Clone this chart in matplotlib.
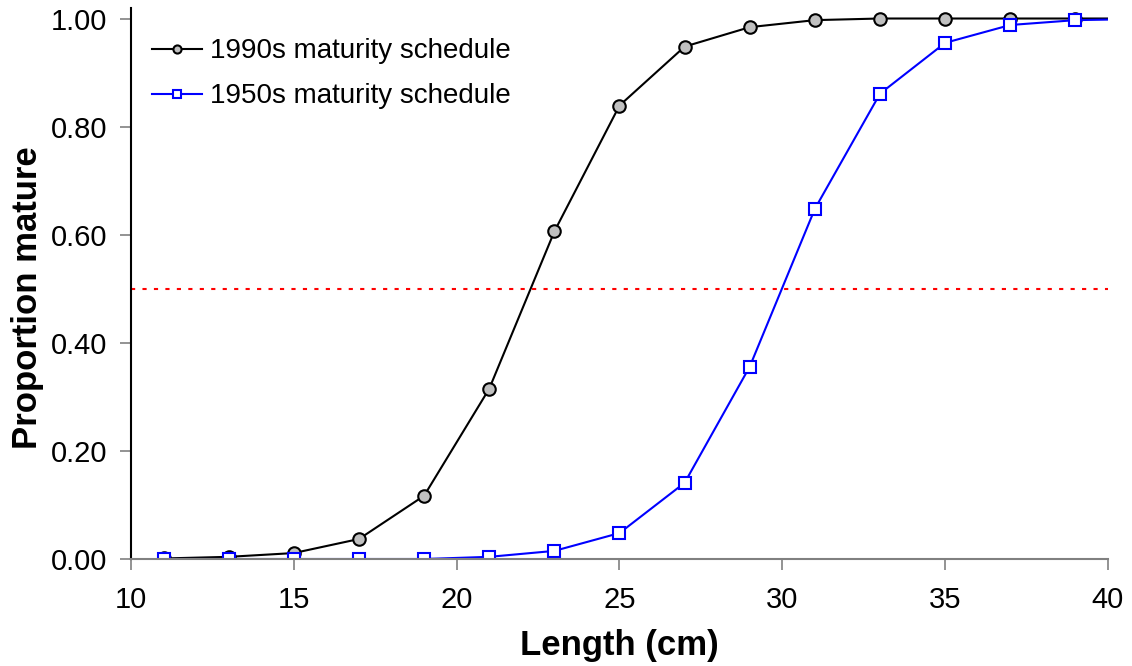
import matplotlib
matplotlib.use("Agg")
import matplotlib.pyplot as plt

plt.rcParams["font.family"] = ["Liberation Sans", "DejaVu Sans"]

# maturity ogives
length_cm = [11, 13, 15, 17, 19, 21, 23, 25, 27, 29, 31, 33, 35, 37, 39, 41]
mature_1990s = [0.001, 0.004, 0.011, 0.037, 0.117, 0.315, 0.606, 0.839,
                0.948, 0.984, 0.997, 1.000, 1.000, 1.000, 1.000, 1.000]
mature_1950s = [0.000, 0.000, 0.000, 0.000, 0.000, 0.004, 0.015, 0.048,
                0.141, 0.356, 0.648, 0.861, 0.955, 0.988, 0.997, 0.999]
x_ticks = [10, 15, 20, 25, 30, 35, 40]
y_ticks = [0.0, 0.2, 0.4, 0.6, 0.8, 1.0]
half_mature = 0.5

fig = plt.figure(figsize=(11.32, 6.66), dpi=100)
ax = fig.add_axes([131 / 1132, 1 - 559 / 666, 977 / 1132, 551 / 666])

ax.plot(length_cm, mature_1990s, color="black", lw=1.5, marker="o",
        ms=9, mfc="#c0c0c0", mec="black", mew=1.5,
        label="1990s maturity schedule")
ax.plot(length_cm, mature_1950s, color="blue", lw=1.5, marker="s",
        ms=8.5, mfc="white", mec="blue", mew=1.5,
        label="1950s maturity schedule")
ax.axhline(half_mature, color="red", lw=1.5, ls=(0, (2, 3.5)))

ax.set_xlim(10, 40)
ax.set_ylim(0, 1.0 + 10.5 / 540)
ax.set_xticks(x_ticks)
ax.set_yticks(y_ticks)
ax.set_yticklabels([f"{v:.2f}" for v in y_ticks])

for side in ("top", "right"):
    ax.spines[side].set_visible(False)
ax.spines["bottom"].set_color("#808080")
ax.spines["bottom"].set_linewidth(1.5)
ax.spines["left"].set_color("black")
ax.spines["left"].set_linewidth(1.5)

ax.tick_params(axis="both", direction="out", length=8, width=1.2,
               color="#808080", labelsize=21)
ax.tick_params(axis="x", pad=11.5)
ax.tick_params(axis="y", pad=9)

ax.set_xlabel("Length (cm)", fontsize=25, fontweight="bold", labelpad=11)
ax.set_ylabel("Proportion mature", fontsize=25, fontweight="bold")
ax.yaxis.set_label_coords(-87 / 977, 0.474)

ax.legend(loc="upper left", frameon=False, fontsize=20, markerscale=0.65,
          handlelength=1.8, handletextpad=0.3, labelspacing=0.69,
          bbox_to_anchor=(-0.004, 0.9905), borderaxespad=0.5)

fig.savefig("out.png", dpi=100)
